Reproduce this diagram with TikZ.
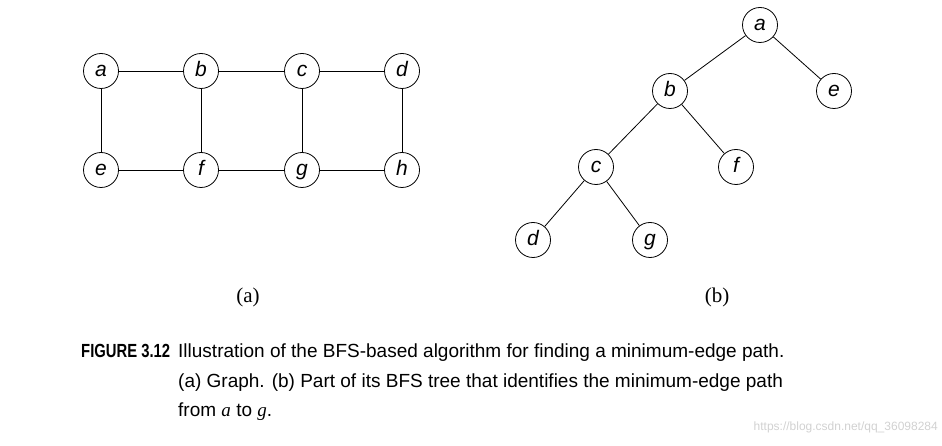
\documentclass[tikz,border=0pt]{standalone}
\usepackage{fontspec}
\usepackage{graphicx}
\setmainfont{Liberation Serif}
\setsansfont{Liberation Sans}
\begin{document}
\begin{tikzpicture}[
  x=1pt, y=-1pt,
  vnode/.style={circle, draw=black, line width=0.8pt, inner sep=0pt, minimum size=35pt, text height=11pt, text depth=0pt, font=\sffamily\itshape\fontsize{21}{21}\selectfont},
  edge/.style={line width=0.8pt, draw=black},
  sublabel/.style={font=\rmfamily\fontsize{21}{21}\selectfont},
  captext/.style={font=\sffamily\fontsize{19}{29}\selectfont, anchor=base west, inner sep=0pt}
]
  \useasboundingbox (0,0) rectangle (942,446);

  % --- GRAFO (a) ---
  \node[vnode] (ga) at (101,71) {a};
  \node[vnode] (gb) at (201,71) {b};
  \node[vnode] (gc) at (302,71) {c};
  \node[vnode] (gd) at (402,71) {d};
  \node[vnode] (ge) at (101,170) {e};
  \node[vnode] (gf) at (201,170) {f};
  \node[vnode] (gg) at (302,170) {g};
  \node[vnode] (gh) at (402,170) {h};

  \draw[edge] (ga) -- (gb) -- (gc) -- (gd);
  \draw[edge] (ge) -- (gf) -- (gg) -- (gh);
  \draw[edge] (ga) -- (ge);
  \draw[edge] (gb) -- (gf);
  \draw[edge] (gc) -- (gg);
  \draw[edge] (gd) -- (gh);

  % --- ARBOL BFS (b) ---
  \node[vnode] (ta) at (760,25)  {a};
  \node[vnode] (tb) at (670,91)  {b};
  \node[vnode] (te) at (834,91)  {e};
  \node[vnode] (tc) at (596,167) {c};
  \node[vnode] (tf) at (736,167) {f};
  \node[vnode] (td) at (533,240) {d};
  \node[vnode] (tg) at (650,240) {g};

  \draw[edge] (ta) -- (tb);
  \draw[edge] (ta) -- (te);
  \draw[edge] (tb) -- (tc);
  \draw[edge] (tb) -- (tf);
  \draw[edge] (tc) -- (td);
  \draw[edge] (tc) -- (tg);

  % --- ETIQUETAS ---
  \node[sublabel] (la) at (248,297) {(a)};
  \node[sublabel] (lb) at (717,297) {(b)};

  % --- PIE DE FIGURA ---
  \node[captext] (cap0) at (81,357) {\scalebox{0.78}[1]{\bfseries FIGURE 3.12}};
  \node[captext] (cap1) at (178,357) {Illustration of the BFS-based algorithm for finding a minimum-edge path.};
  \node[captext] (cap2) at (178,387) {(a) Graph. (b) Part of its BFS tree that identifies the minimum-edge path};
  \node[captext] (cap3) at (178,416) {from {\rmfamily\itshape a} to {\rmfamily\itshape g}.};
  \node[font=\sffamily\fontsize{12}{12}\selectfont, text=black!18, anchor=base east, inner sep=0pt] (wm) at (938,430) {https://blog.csdn.net/qq\_36098284};
\end{tikzpicture}
\end{document}
